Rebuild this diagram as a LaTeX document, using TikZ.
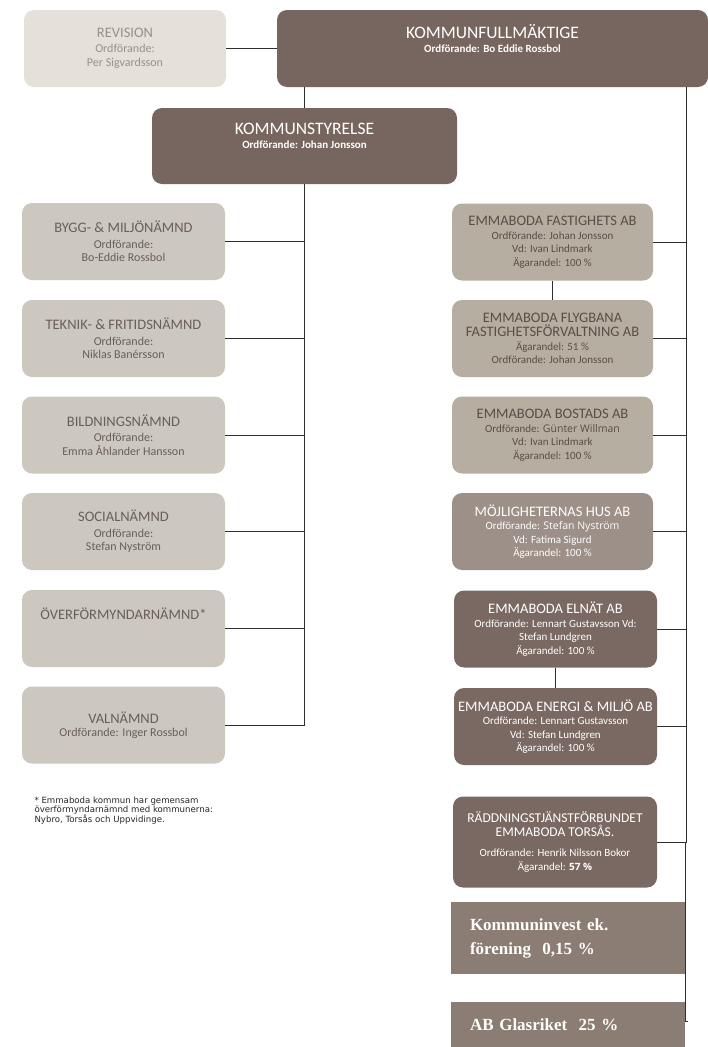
\documentclass[tikz,border=0pt]{standalone}
\usepackage{fontspec}
\setmainfont{Carlito}
\newfontfamily\notefont{DejaVu Sans}
\newfontfamily\altfont{Open Sans}
\newfontfamily\investfont{Liberation Serif}
\usepackage{tikz}
\usetikzlibrary{positioning}
\definecolor{revfill}{HTML}{E5E0D9}
\definecolor{revtext}{HTML}{9A9088}
\definecolor{topfill}{HTML}{77665F}
\definecolor{leftfill}{HTML}{CCC7BF}
\definecolor{lefttext}{HTML}{6A5F59}
\definecolor{rightfill}{HTML}{B6AEA1}
\definecolor{righttext}{HTML}{5A4E48}
\definecolor{midfill}{HTML}{9C9088}
\definecolor{darkfill}{HTML}{7A6962}
\definecolor{investfill}{HTML}{8B7D74}
\definecolor{linecol}{HTML}{2E2E2E}
\tikzset{org/.style={rectangle, rounded corners=10pt, inner sep=0pt, align=center, minimum height=77pt, font=\fontsize{11}{13.5}\selectfont},
  revbox/.style={org, fill=revfill, text=revtext, minimum width=202pt, font=\fontsize{12}{14.5}\selectfont},
  topbox/.style={org, fill=topfill, text=white, font=\bfseries\fontsize{11}{14}\selectfont},
  leftbox/.style={org, fill=leftfill, text=lefttext, minimum width=203pt, font=\fontsize{12}{13.5}\selectfont},
  rightbox/.style={org, fill=rightfill, text=righttext, minimum width=201pt},
  midbox/.style={org, fill=midfill, text=white!95!revfill, minimum width=201pt},
  darkbox/.style={org, fill=darkfill, text=white, minimum width=203pt},
  sharebox/.style={rectangle, fill=investfill, text=white!96!revfill, inner xsep=19pt, inner ysep=0pt, minimum width=234pt, text width=196pt, align=left, font=\investfont\bfseries\fontsize{17}{24}\selectfont},
  link/.style={draw=linecol, line width=1pt}}
\newcommand{\ttl}[1]{{\fontsize{14.5}{17}\selectfont #1}}
\newcommand{\bigttl}[1]{{\mdseries\fontsize{17.5}{18}\selectfont #1}}

\begin{document}
\begin{tikzpicture}[x=1pt,y=-1pt]
		\useasboundingbox[fill=white] (0,0) rectangle (708,1047);
		% top level
		\node[revbox] (rev) at (125,48.5) {\ttl{REVISION}\\Ordförande:\\Per Sigvardsson};
		\node[topbox, minimum width=431pt] (kf) at (492.5,48.5) {\bigttl{KOMMUNFULLMÄKTIGE}\\Ordförande: Bo Eddie Rossbol\\[6pt]};
		\node[topbox, minimum width=305pt, minimum height=76pt] (ks) at (304.5,146) {\bigttl{KOMMUNSTYRELSE}\\Ordförande: Johan Jonsson\\[6pt]};
		% nämnder
		\node[leftbox] (bygg) at (123.5,241.5) {\ttl{BYGG- \& MILJÖNÄMND}\\[2pt]Ordförande:\\Bo-Eddie Rossbol};
		\node[leftbox] (teknik) at (123.5,338.5) {\ttl{TEKNIK- \& FRITIDSNÄMND}\\[2pt]Ordförande:\\Niklas Banérsson};
		\node[leftbox] (bildn) at (123.5,435) {\ttl{BILDNINGSNÄMND}\\[2pt]Ordförande:\\Emma Åhlander Hansson};
		\node[leftbox] (social) at (123.5,531.5) {\ttl{SOCIALNÄMND}\\[2pt]Ordförande:\\Stefan Nyström};
		\node[leftbox] (overf) at (123.5,628.5) {\ttl{ÖVERFÖRMYNDARNÄMND*}\\[2pt]~\\~};
		\node[leftbox] (valn) at (123.5,725) {\ttl{VALNÄMND}\\Ordförande: Inger Rossbol};
		\node[anchor=north west, align=left, text=black!85, font=\notefont\fontsize{8.6}{9.8}\selectfont] (note) at (31,793) {* Emmaboda kommun har gemensam\\överförmyndarnämnd med kommunerna:\\Nybro, Torsås och Uppvidinge.};
		% bolag
		\node[rightbox] (fast) at (552.5,242) {\ttl{EMMABODA FASTIGHETS AB}\\Ordförande: Johan Jonsson\\Vd: Ivan Lindmark\\Ägarandel: 100~\%};
		\node[rightbox] (flyg) at (552.5,338.5) {\ttl{EMMABODA FLYGBANA}\\[1pt]\ttl{FASTIGHETSFÖRVALTNING AB}\\Ägarandel: 51~\%\\Ordförande: Johan Jonsson};
		\node[rightbox] (bost) at (552.5,435) {\ttl{EMMABODA BOSTADS AB}\\Ordförande: {\altfont\fontsize{10.5}{13.5}\selectfont Günter Willman}\\Vd: Ivan Lindmark\\Ägarandel: 100~\%};
		\node[midbox] (mojl) at (552.5,531.5) {\ttl{MÖJLIGHETERNAS HUS AB}\\Ordförande: {\altfont\fontsize{10.5}{13.5}\selectfont Stefan Nyström}\\Vd: Fatima Sigurd\\Ägarandel: 100~\%};
		\node[darkbox] (elnat) at (555.5,629) {\ttl{EMMABODA ELNÄT AB}\\Ordförande: Lennart Gustavsson Vd:\\Stefan Lundgren\\Ägarandel: 100~\%};
		\node[darkbox] (energi) at (555.5,726.5) {\ttl{EMMABODA ENERGI \& MILJÖ AB}\\Ordförande: Lennart Gustavsson\\Vd: Stefan Lundgren\\Ägarandel: 100~\%};
		\node[darkbox, minimum width=204pt, minimum height=91pt] (radd) at (555,842) {{\fontsize{13.5}{15}\selectfont RÄDDNINGSTJÄNSTFÖRBUNDET}\\{\fontsize{13.5}{15}\selectfont EMMABODA TORSÅS.}\\[7pt]Ordförande: Henrik Nilsson Bokor\\Ägarandel: {\altfont\bfseries\fontsize{10}{13.5}\selectfont 57~\%}};
		\node[sharebox, minimum height=72pt] (kinv) at (568,938) {Kommuninvest ek.\\förening\ \ 0,15~\%};
		\node[sharebox, minimum height=45pt] (glas) at (568,1024.5) {AB Glasriket\ \ 25~\%};
		% connectors
		\coordinate (rtop) at (686,87);
		\draw[link] (rev) -- (kf);
		\draw[link] (kf.south -| ks.north) -- (ks.north);
		\draw[link] (ks.south) -- (ks.south |- valn.east);
		\foreach \n in {bygg,teknik,bildn,social,overf,valn}
			\draw[link] (\n.east) -- (\n.east -| ks.south);
		\draw[link] (rtop) |- (radd.east);
		\foreach \n in {fast,flyg,bost,mojl,elnat,energi}
			\draw[link] (\n.east) -- (\n.east -| rtop);
		\draw[link] (fast) -- (flyg);
		\draw[link] (elnat) -- (energi);
		\draw[link] (radd.east -| glas.east) -- ([yshift=3.5pt]glas.east) -- ++(3,0);
\end{tikzpicture}
\end{document}
